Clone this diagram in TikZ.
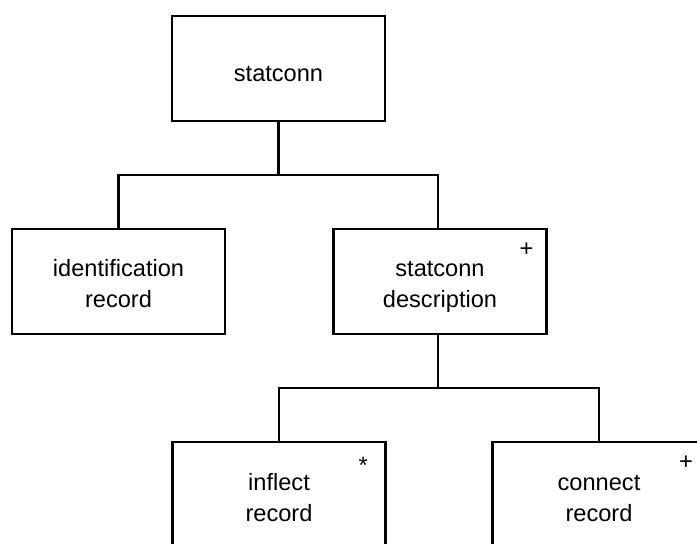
\documentclass[tikz,border=0pt]{standalone}
\usepackage{fontspec}
\setmainfont{Liberation Sans}
\begin{document}
\begin{tikzpicture}[x=1pt,y=1pt,
  box/.style={draw, line width=2.2pt, minimum width=213pt, minimum height=105pt, inner sep=0pt},
  lbl/.style={font=\fontsize{23.6}{31}\selectfont, align=center, inner sep=0pt, anchor=base},
  multsym/.style={font=\fontsize{23.6}{28}\selectfont, inner sep=0pt},
  connline/.style={line width=2.2pt}]
\useasboundingbox (0,0) rectangle (697,544);
\node[box] (top) at (278.5,475.5) {};
\node[box] (ident) at (118.5,262.5) {};
\node[box] (desc) at (440,262.5) {};
\node[box] (infl) at (279,49.5) {};
\node[box] (conn) at (599,49.5) {};
\node[lbl] (toptxt) at ([yshift=-67]top.north) {statconn};
\node[lbl] (identtxt) at ([yshift=-80]ident.north) {identification\\record};
\node[lbl] (desctxt) at ([yshift=-80]desc.north) {statconn\\description};
\node[lbl] (infltxt) at ([yshift=-81]infl.north) {inflect\\record};
\node[lbl] (conntxt) at ([yshift=-81]conn.north) {connect\\record};
\node[multsym] (descmark) at ([xshift=-21,yshift=-21.5]desc.north east) {+};
\node[multsym] (inflmark) at ([xshift=-23.5,yshift=-24]infl.north east) {*};
\node[multsym] (connmark) at ([xshift=-20.5,yshift=-21.5]conn.north east) {+};
\coordinate (bus1) at (278.5,369);
\coordinate (bus2) at (438,156);
\draw[connline] (top.south) -- (bus1);
\draw[connline] (ident.north) |- (bus1) -| ([xshift=-2]desc.north);
\draw[connline] ([xshift=-2]desc.south) -- (bus2);
\draw[connline] (infl.north) |- (bus2) -| (conn.north);
\end{tikzpicture}
\end{document}
